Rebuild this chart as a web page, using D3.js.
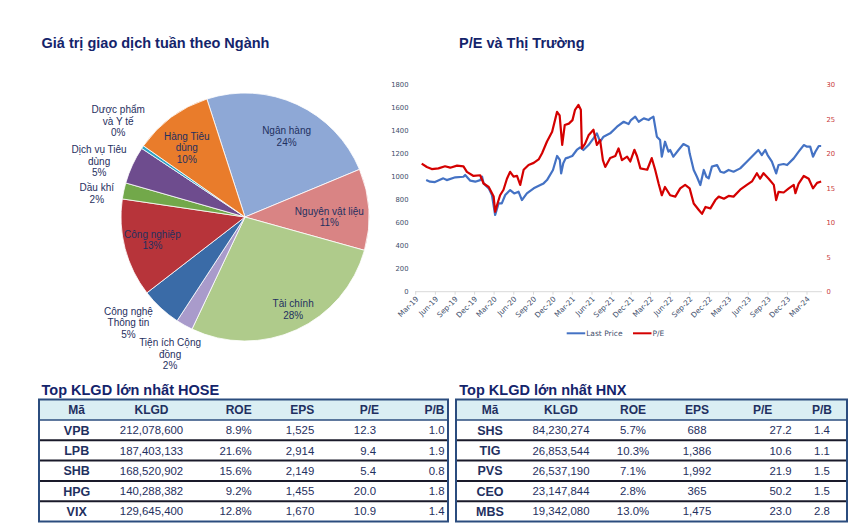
<!DOCTYPE html>
<html>
<head>
<meta charset="utf-8">
<script src="https://cdn.jsdelivr.net/npm/d3@7"></script>
<style>
  html, body { margin: 0; padding: 0; background: #fff; }
  svg { display: block; }
</style>
</head>
<body>
<svg id="chart" width="864" height="530"></svg>
<script>
// ---------------- DATA ----------------
const sectorNames = ["Ngân hàng","Nguyên vật liệu","Tài chính","Tiện ích Cộng đồng","Công nghệ Thông tin","Công nghiệp","Dầu khí","Dịch vụ Tiêu dùng","Dược phẩm và Y tế","Hàng Tiêu dùng"];
const sectorLabelLines = [["Ngân hàng"],["Nguyên vật liệu"],["Tài chính"],["Tiện ích Cộng","đồng"],["Công nghệ","Thông tin"],["Công nghiệp"],["Dầu khí"],["Dịch vụ Tiêu","dùng"],["Dược phẩm","và Y tế"],["Hàng Tiêu","dùng"]];
const sectorShares = [23.7, 10.6, 27.7, 2.2, 5.3, 12.8, 2.1, 4.9, 0.4, 10.3];

const priceDates = ["2019-04-19","2019-05-07","2019-05-30","2019-07-08","2019-07-24","2019-09-02","2019-10-10","2019-10-18","2019-11-11","2019-12-04","2019-12-27","2020-01-05","2020-01-12","2020-02-05","2020-02-20","2020-03-06","2020-03-22","2020-04-06","2020-04-22","2020-05-15","2020-06-03","2020-06-23","2020-07-09","2020-08-01","2020-09-02","2020-10-03","2020-10-18","2020-11-03","2020-12-01","2020-12-20","2021-01-02","2021-01-08","2021-01-18","2021-01-29","2021-02-13","2021-03-01","2021-03-22","2021-04-07","2021-04-22","2021-05-16","2021-06-08","2021-06-24","2021-07-09","2021-07-25","2021-08-25","2021-09-26","2021-10-27","2021-11-19","2021-11-30","2021-12-20","2022-01-05","2022-01-29","2022-02-21","2022-03-01","2022-03-15","2022-03-31","2022-04-15","2022-04-23","2022-05-08","2022-05-24","2022-06-01","2022-06-16","2022-07-10","2022-08-02","2022-08-26","2022-08-31","2022-09-19","2022-10-04","2022-10-20","2022-11-05","2022-11-17","2022-11-28","2022-12-13","2023-01-06","2023-01-22","2023-02-07","2023-03-01","2023-03-24","2023-04-24","2023-05-25","2023-06-25","2023-07-18","2023-08-03","2023-08-19","2023-08-30","2023-09-19","2023-10-09","2023-10-20","2023-11-13","2023-11-29","2023-12-30","2024-01-22","2024-02-15","2024-03-01","2024-03-16","2024-03-29","2024-04-09","2024-04-25","2024-05-06"];
const priceValues = [972,958,955,987,972,996,1001,1016,967,958,972,1001,943,900,842,668,769,769,842,885,856,871,798,856,900,929,943,972,1060,1182,1147,1030,1118,1161,1170,1182,1234,1257,1234,1277,1335,1379,1306,1350,1379,1437,1480,1460,1495,1524,1480,1509,1495,1509,1524,1350,1321,1176,1306,1219,1234,1176,1234,1286,1263,1205,1060,1001,929,1060,1001,987,1089,1103,1045,1036,1060,1045,1074,1132,1190,1234,1190,1234,1190,1132,1030,1103,1112,1103,1161,1219,1277,1263,1263,1176,1219,1269,1269];

const peDates = ["2019-03-29","2019-04-22","2019-05-15","2019-06-15","2019-07-16","2019-08-09","2019-09-10","2019-10-10","2019-10-26","2019-11-26","2019-12-27","2020-01-12","2020-02-05","2020-02-28","2020-03-06","2020-03-17","2020-03-29","2020-04-14","2020-04-30","2020-05-15","2020-05-31","2020-06-16","2020-07-01","2020-07-17","2020-08-09","2020-09-02","2020-09-25","2020-10-11","2020-11-03","2020-11-27","2020-12-20","2021-01-01","2021-01-13","2021-01-25","2021-02-13","2021-03-02","2021-03-14","2021-03-30","2021-04-10","2021-04-15","2021-04-30","2021-05-16","2021-06-08","2021-06-24","2021-07-09","2021-07-22","2021-08-02","2021-08-25","2021-09-18","2021-10-03","2021-10-19","2021-11-12","2021-11-27","2021-12-16","2021-12-28","2022-01-13","2022-02-14","2022-03-07","2022-03-23","2022-04-08","2022-04-23","2022-05-08","2022-06-01","2022-06-25","2022-07-18","2022-08-10","2022-08-31","2022-09-19","2022-10-12","2022-10-28","2022-11-13","2022-12-06","2022-12-29","2023-01-14","2023-02-07","2023-03-01","2023-03-24","2023-04-24","2023-05-25","2023-06-18","2023-07-11","2023-07-26","2023-08-11","2023-09-04","2023-09-28","2023-10-09","2023-10-20","2023-11-13","2023-12-07","2023-12-30","2024-01-07","2024-01-22","2024-02-15","2024-03-09","2024-03-29","2024-04-17","2024-05-06"];
const peValues = [18.6,18.1,17.8,17.9,18.2,18.0,18.3,18.2,17.4,16.8,16.9,15.7,15.2,13.8,11.6,12.8,14.0,14.8,16.4,17.4,16.7,16.8,15.5,17.7,18.4,18.7,19.2,20.1,21.8,23.2,26.1,25.6,21.3,24.2,24.4,24.9,26.4,27.1,26.4,20.8,21.5,22.7,23.5,21.3,22.0,19.1,18.1,19.4,19.7,20.8,19.1,19.6,18.9,20.6,19.7,17.9,17.7,19.4,17.7,15.7,14.0,15.2,14.0,13.8,15.0,15.5,15.0,12.8,11.9,11.3,12.3,12.1,13.3,13.8,13.5,13.9,13.8,14.8,15.5,16.0,17.2,16.4,17.2,16.4,15.5,13.3,14.5,14.4,15.0,15.5,14.3,15.7,16.8,16.4,15.0,15.8,16.0];

const leftTicks = [0,200,400,600,800,1000,1200,1400,1600,1800];
const rightTicks = [0,5,10,15,20,25,30];
const xTickLabels = ["Mar-19","Jun-19","Sep-19","Dec-19","Mar-20","Jun-20","Sep-20","Dec-20","Mar-21","Jun-21","Sep-21","Dec-21","Mar-22","Jun-22","Sep-22","Dec-22","Mar-23","Jun-23","Sep-23","Dec-23","Mar-24"];
const seriesNames = ["Last Price","P/E"];

const tableHeaders = ["Mã","KLGD","ROE","EPS","P/E","P/B"];
const hoseCodes = ["VPB","LPB","SHB","HPG","VIX"];
const hoseKLGD = [212078600,187403133,168520902,140288382,129645400];
const hoseROE = [8.9,21.6,15.6,9.2,12.8];
const hoseEPS = [1525,2914,2149,1455,1670];
const hosePE = [12.3,9.4,5.4,20.0,10.9];
const hosePB = [1.0,1.9,0.8,1.8,1.4];

const hnxCodes = ["SHS","TIG","PVS","CEO","MBS"];
const hnxKLGD = [84230274,26853544,26537190,23147844,19342080];
const hnxROE = [5.7,10.3,7.1,2.8,13.0];
const hnxEPS = [688,1386,1992,365,1475];
const hnxPE = [27.2,10.6,21.9,50.2,23.0];
const hnxPB = [1.4,1.1,1.5,1.5,2.8];

// ---------------- STYLE ----------------
const navy = "#14246b";
const textNavy = "#1f3060";
const sectorColors = ["#8ea8d6","#d98484","#afcb8b","#a99bcb","#3a6ba7","#b7343a","#72a84a","#6e4c8e","#2fa2c4","#e97c2b"];
// label nudges: [angle offset deg, radius factor]
const labelNudge = [[2.6,0.73],[3.5,0.68],[-3,0.84],[-0.6,1.26],[5,1.27],[0.6,0.77],[-3.2,1.21],[-3.8,1.26],[2.7,1.28],[-3.6,0.73]];

const svg = d3.select("#chart");
svg.append("rect").attr("width",864).attr("height",530).attr("fill","#fff");

// Titles
const titleFont = "'Liberation Sans', Arial, sans-serif";
svg.append("text").attr("x",41.5).attr("y",47.5).text("Giá trị giao dịch tuần theo Ngành")
  .attr("font-family",titleFont).attr("font-weight","bold").attr("font-size",14.5).attr("fill",navy);
svg.append("text").attr("x",459).attr("y",47.5).text("P/E và Thị Trường")
  .attr("font-family",titleFont).attr("font-weight","bold").attr("font-size",14.5).attr("fill",navy);

// ---------------- PIE ----------------
const cx = 245, cy = 217, R = 124;
const deg = Math.PI/180;
const start = -17.9*deg;
const pie = d3.pie().sort(null).value(d=>d).startAngle(start).endAngle(start+2*Math.PI);
const arcs = pie(sectorShares);
const arc = d3.arc().innerRadius(0).outerRadius(R);
const pg = svg.append("g").attr("transform",`translate(${cx},${cy})`);
pg.selectAll("path").data(arcs).join("path")
  .attr("d",arc).attr("fill",(d,i)=>sectorColors[i])
  .attr("stroke","#fff").attr("stroke-width",0.8);

const total = d3.sum(sectorShares);
arcs.forEach((d,i)=>{
  const mid = (d.startAngle+d.endAngle)/2 + labelNudge[i][0]*deg;
  const rr = R*labelNudge[i][1];
  const x = rr*Math.sin(mid), y = -rr*Math.cos(mid);
  const lines = sectorLabelLines[i].concat([Math.round(d.value/total*100)+"%"]);
  const lh = 11.5;
  const t = pg.append("text").attr("text-anchor","middle")
    .attr("font-family",titleFont).attr("font-size",10).attr("fill",textNavy);
  lines.forEach((ln,k)=>{
    t.append("tspan").attr("x",x).attr("y",y + (k-(lines.length-1)/2)*lh + 3.5).text(ln);
  });
});

// ---------------- LINE CHART ----------------
const axisFont = "'DejaVu Sans', Verdana, sans-serif";
const parse = d3.timeParse("%Y-%m-%d");
const x0 = parse("2019-03-01");
const x = d3.scaleTime().domain([x0, parse("2024-05-10")]).range([415.7, 822]);
const yL = d3.scaleLinear().domain([0,1800]).range([291.7, 85]);
const yR = d3.scaleLinear().domain([0,30]).range([291.7, 85]);

const lg = svg.append("g");
lg.append("line").attr("x1",415).attr("x2",822).attr("y1",yL(0)).attr("y2",yL(0))
  .attr("stroke","#d9d9d9").attr("stroke-width",1);
const xTicks = xTickLabels.map((lab,i)=>({d:d3.timeMonth.offset(x0, 3*i), lab}));
xTicks.forEach(t=>{
  const px = x(t.d);
  lg.append("line").attr("x1",px).attr("x2",px).attr("y1",yL(0)).attr("y2",yL(0)+3)
    .attr("stroke","#d9d9d9");
  lg.append("text").attr("transform",`translate(${px+1.5},${yL(0)+6}) rotate(-45)`)
    .attr("text-anchor","end").attr("dy","0.35em")
    .attr("font-family",axisFont).attr("font-size",7.4).attr("fill","#3f4f6c").text(t.lab);
});
leftTicks.forEach(v=>{
  lg.append("text").attr("x",408.5).attr("y",yL(v)).attr("dy","0.35em").attr("text-anchor","end")
    .attr("font-family",axisFont).attr("font-size",6.8).attr("fill","#3f4f6c").text(v);
});
rightTicks.forEach(v=>{
  lg.append("text").attr("x",826.5).attr("y",yR(v)).attr("dy","0.35em").attr("text-anchor","start")
    .attr("font-family",axisFont).attr("font-size",6.8).attr("fill","#c8393b").text(v);
});

const blue = "#4472c4", red = "#d40000";
const priceData = priceDates.map((d,i)=>({d:parse(d), v:priceValues[i]}));
const peData = peDates.map((d,i)=>({d:parse(d), v:peValues[i]}));
lg.append("path").datum(priceData)
  .attr("d", d3.line().x(p=>x(p.d)).y(p=>yL(p.v)))
  .attr("fill","none").attr("stroke",blue).attr("stroke-width",2.2).attr("stroke-linejoin","round");
lg.append("path").datum(peData)
  .attr("d", d3.line().x(p=>x(p.d)).y(p=>yR(p.v)))
  .attr("fill","none").attr("stroke",red).attr("stroke-width",2.2).attr("stroke-linejoin","round");

// legend
const legY = 333.3;
[[566.7, blue, seriesNames[0]],[633, red, seriesNames[1]]].forEach(([lx,c,name])=>{
  lg.append("line").attr("x1",lx).attr("x2",lx+18.5).attr("y1",legY).attr("y2",legY)
    .attr("stroke",c).attr("stroke-width",2);
  lg.append("text").attr("x",lx+19.5).attr("y",legY).attr("dy","0.35em")
    .attr("font-family",axisFont).attr("font-size",7.5).attr("fill","#3f4f6c").text(name);
});

// ---------------- TABLES ----------------
const fmtInt = d3.format(",");
const fmt1 = d3.format(".1f");
function drawTable(cfg){
  const g = svg.append("g");
  const top = 399.5, hh = 20.5, rh = 20.3;
  g.append("text").attr("x",cfg.titleX).attr("y",394.5).text(cfg.title)
    .attr("font-family",titleFont).attr("font-weight","bold").attr("font-size",14.5).attr("fill",navy);
  const rows = cfg.codes.length;
  const bottom = top + hh + rows*rh;
  g.append("rect").attr("x",cfg.left).attr("y",top).attr("width",cfg.right-cfg.left).attr("height",hh)
    .attr("fill","#daeef3");
  for(let r=0;r<rows-1;r++){
    const yy = top+hh+(r+1)*rh;
    g.append("line").attr("x1",cfg.left-1).attr("x2",cfg.right+1).attr("y1",yy).attr("y2",yy)
      .attr("stroke","#1a1a2a").attr("stroke-width",2);
  }
  g.append("line").attr("x1",cfg.left).attr("x2",cfg.right).attr("y1",top+hh).attr("y2",top+hh)
    .attr("stroke","#2b4c7e").attr("stroke-width",1.3);
  g.append("rect").attr("x",cfg.left).attr("y",top).attr("width",cfg.right-cfg.left).attr("height",bottom-top)
    .attr("fill","none").attr("stroke","#2b4c7e").attr("stroke-width",2);
  tableHeaders.forEach((h,i)=>{
    const c = cfg.cols[i];
    g.append("text").attr("x",c.hx!==undefined?c.hx:c.x).attr("y",top+hh/2).attr("dy","0.36em")
      .attr("text-anchor",c.ha||c.a).attr("font-family",titleFont).attr("font-weight","bold")
      .attr("font-size",12).attr("fill",textNavy).text(h);
  });
  for(let r=0;r<rows;r++){
    const vals = [cfg.codes[r], fmtInt(cfg.klgd[r]), fmt1(cfg.roe[r])+"%", fmtInt(cfg.eps[r]), fmt1(cfg.pe[r]), fmt1(cfg.pb[r])];
    const yy = top+hh+r*rh+rh/2;
    vals.forEach((v,i)=>{
      const c = cfg.cols[i];
      g.append("text").attr("x",c.x).attr("y",yy).attr("dy","0.36em")
        .attr("text-anchor",c.a).attr("font-family",titleFont)
        .attr("font-weight",i===0?"bold":"normal").attr("font-size",i===0?12.5:11.4)
        .attr("fill",textNavy).text(v);
    });
  }
}
drawTable({title:"Top KLGD lớn nhất HOSE", titleX:41.5, left:39, right:448,
  codes:hoseCodes, klgd:hoseKLGD, roe:hoseROE, eps:hoseEPS, pe:hosePE, pb:hosePB,
  cols:[{x:76.7,a:"middle"},{x:151.5,a:"middle"},{x:251.7,a:"end"},{x:314.3,a:"end"},{x:376,a:"end",hx:379},{x:444.5,a:"end"}]});
drawTable({title:"Top KLGD lớn nhất HNX", titleX:459.3, left:456, right:847,
  codes:hnxCodes, klgd:hnxKLGD, roe:hnxROE, eps:hnxEPS, pe:hnxPE, pb:hnxPB,
  cols:[{x:490,a:"middle"},{x:561,a:"middle"},{x:633,a:"middle"},{x:697,a:"middle"},{x:791.7,a:"end",hx:762.7,ha:"middle"},{x:822,a:"middle"}]});
</script>
</body>
</html>
